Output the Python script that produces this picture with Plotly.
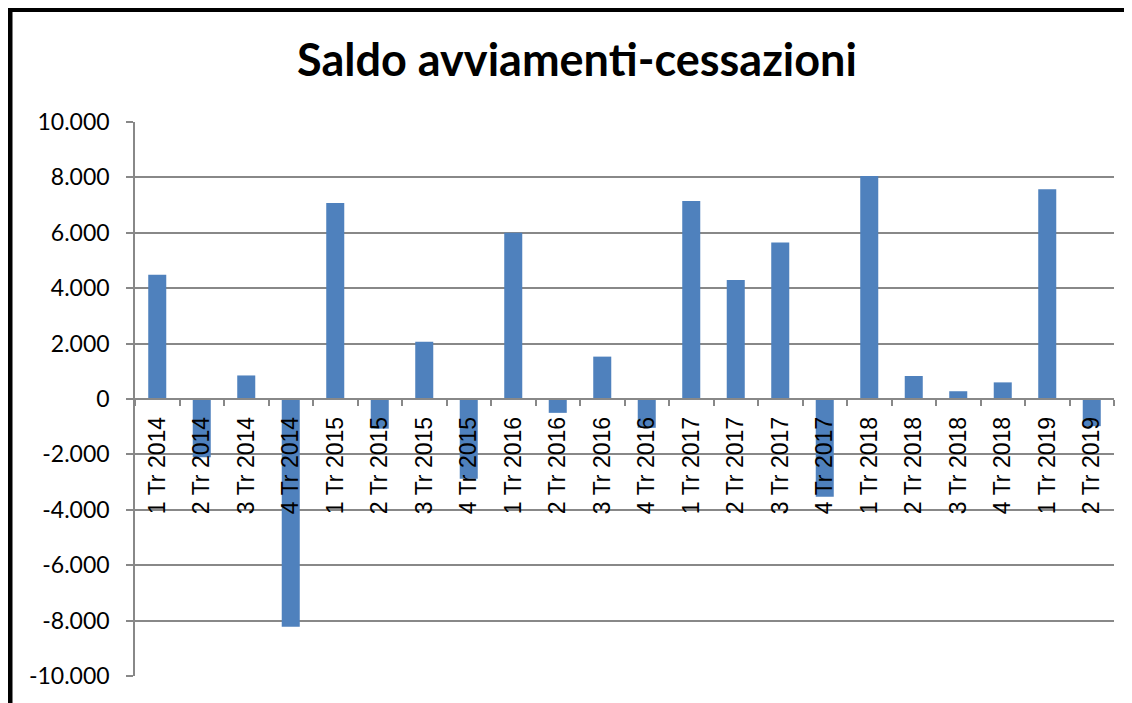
import plotly.graph_objects as go

categories = ["1 Tr 2014", "2 Tr 2014", "3 Tr 2014", "4 Tr 2014",
              "1 Tr 2015", "2 Tr 2015", "3 Tr 2015", "4 Tr 2015",
              "1 Tr 2016", "2 Tr 2016", "3 Tr 2016", "4 Tr 2016",
              "1 Tr 2017", "2 Tr 2017", "3 Tr 2017", "4 Tr 2017",
              "1 Tr 2018", "2 Tr 2018", "3 Tr 2018", "4 Tr 2018",
              "1 Tr 2019", "2 Tr 2019"]
saldo = [4490, -2100, 850, -8220,
         7080, -1070, 2070, -2880,
         6000, -500, 1530, -1040,
         7150, 4300, 5650, -3530,
         8050, 830, 280, 600,
         7570, -980]
y_tickvals = [-10000, -8000, -6000, -4000, -2000, 0, 2000, 4000, 6000, 8000, 10000]
y_ticktext = ["-10.000", "-8.000", "-6.000", "-4.000", "-2.000", "0",
              "2.000", "4.000", "6.000", "8.000", "10.000"]

GRID = "#888888"

# plot area in figure coordinates (page has an 8px body offset)
L, R, T, B = 127, 1106, 114, 668
PW, PH = R - L, B - T

fig = go.Figure()
fig.add_trace(go.Bar(x=categories, y=saldo, marker=dict(color="#4F81BD", line=dict(width=0))))

fig.update_layout(
    width=1132, height=703,
    margin=dict(l=L, r=1132 - R, t=T, b=703 - B),
    paper_bgcolor="white", plot_bgcolor="white",
    bargap=0.595,
    showlegend=False,
    title=dict(text="<b>Saldo avviamenti-cessazioni</b>",
               font=dict(family="Lato", size=45, color="black"),
               x=569 / 1132, xanchor="center", xref="container",
               y=1 - 52 / 703, yanchor="middle", yref="container"),
    xaxis=dict(type="category", anchor="free", position=0.5,
               showline=True, linecolor=GRID, linewidth=1.5,
               ticks="outside", tickson="boundaries", ticklen=6,
               tickcolor=GRID, tickwidth=1.5,
               tickangle=-90, showgrid=False,
               tickfont=dict(family="Liberation Sans", size=23, color="black"),
               ticklabelstandoff=8),
    yaxis=dict(range=[-10000, 10000], tickvals=y_tickvals, ticktext=y_ticktext,
               showline=True, linecolor=GRID, linewidth=1.5,
               ticks="outside", ticklen=7, tickcolor=GRID, tickwidth=1.5,
               showgrid=True, gridcolor=GRID, gridwidth=1.5, zeroline=False,
               tickfont=dict(family="Lato", size=23, color="black"),
               ticklabelstandoff=12),
    shapes=[dict(type="rect", xref="paper", yref="paper",
                 x0=(2 - L) / PW, x1=(1145 - L) / PW,
                 y0=(B - 725) / PH, y1=(B - 1.5) / PH,
                 line=dict(color="black", width=5), fillcolor="rgba(0,0,0,0)",
                 layer="above")],
)

fig.write_html("out.html")
